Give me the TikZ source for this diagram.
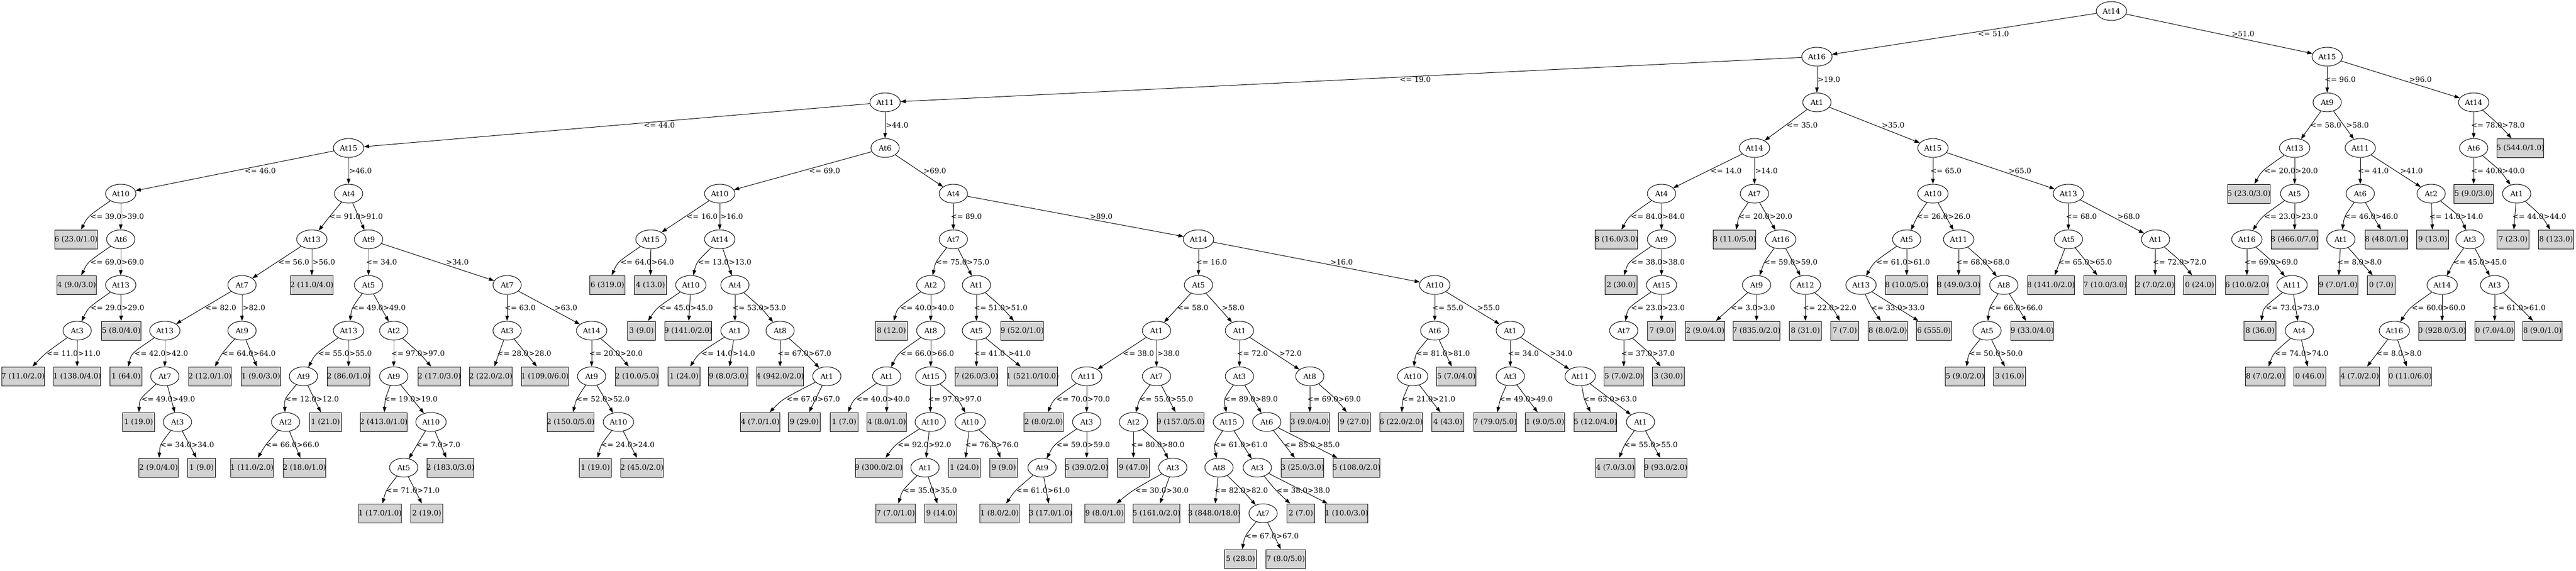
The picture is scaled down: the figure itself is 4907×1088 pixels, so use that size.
\documentclass[tikz,border=0pt]{standalone}
\usepackage{fontspec}
\setmainfont{DejaVu Serif}
\newfontfamily\tms{Liberation Serif}
\usetikzlibrary{shapes.geometric,arrows.meta,calc}
\definecolor{leafgray}{HTML}{D3D3D3}
\newsavebox\lfbox
\newdimen\lblwa
\newdimen\lblwb
% leaf text: box as wide as the Times layout, text in DejaVu Serif
\newcommand\lf[1]{\sbox\lfbox{\tms #1}\makebox[\wd\lfbox]{#1}}
% both connectors of a test node; labels kept side by side, connectors bent through them
\newcommand\branchpair[2]{%
  \path let \p1=(#1), \p2=(#10), \p3=(#11),
      \n1={0.5*(\x1+\x2)+0.055*abs(\x2-\x1)-3.75pt},
      \n2={0.5*(\x1+\x3)+0.055*abs(\x3-\x1)+0.75pt},
      \n3={max(0pt,\n1+(#2<10 ? \wa : \wb)-\n2)},
      \n4={abs(\x2-\x1)<11.25pt ? 0pt : \n3},
      \n5={\n3-\n4} in
    coordinate (#1cl) at ({0.5*(\x1+\x2)-1.333*\n4},{0.5*(\y1+\y2)})
    coordinate (#1cr) at ({0.5*(\x1+\x3)+1.333*\n5},{0.5*(\y1+\y3)})
    node[edgelabel] at ({\n1-\n4},{0.5*(\y1+\y2)}) {<= #2}
    node[edgelabel] at ({\n2+\n5},{0.5*(\y1+\y3)}) {>#2};
  \draw[branch] (#1) .. controls (#1cl) .. (#10);
  \draw[branch] (#1) .. controls (#1cr) .. (#11);}

\begin{document}
\settowidth{\lblwa}{\fontsize{10.5}{12.6}\selectfont <= 0.0}%
\settowidth{\lblwb}{\fontsize{10.5}{12.6}\selectfont <= 00.0}%
\edef\wa{\the\lblwa}%
\edef\wb{\the\lblwb}%
\begin{tikzpicture}[x=0.75pt,y=-0.75pt,
  font=\fontsize{10.5}{12.6}\selectfont,
  attrnode/.style={ellipse, draw, line width=0.75pt, minimum width=40.5pt, minimum height=27pt, inner sep=0pt},
  attrwide/.style={attrnode, minimum width=43.5pt},
  leafnode/.style={rectangle, draw, line width=0.75pt, fill=leafgray, inner xsep=6pt, inner ysep=0pt, minimum height=27pt},
  branch/.style={line width=0.75pt, -{Triangle[length=7.5pt,width=5.25pt]}},
  edgelabel/.style={anchor=west, inner sep=0pt}]
\path[fill=white, use as bounding box] (0,0) rectangle (4907,1088);

% Level 0
\node[attrwide] (r) at (4022,21) {At14};
% Level 1
\node[attrwide] (r0) at (3461,108) {At16};
\node[attrwide] (r1) at (4433,108) {At15};
% Level 2
\node[attrwide] (r00) at (1686,195) {At11};
\node[attrnode] (r01) at (3461,195) {At1};
\node[attrnode] (r10) at (4433,195) {At9};
\node[attrwide] (r11) at (4712,195) {At14};
% Level 3
\node[attrwide] (r000) at (664,282) {At15};
\node[attrnode] (r001) at (1686,282) {At6};
\node[attrwide] (r010) at (3342,282) {At14};
\node[attrwide] (r011) at (3682,282) {At15};
\node[attrwide] (r100) at (4371,282) {At13};
\node[attrwide] (r101) at (4496,282) {At11};
\node[attrnode] (r110) at (4712,282) {At6};
\node[leafnode] (r111) at (4801,282) {\lf{5 (544.0/1.0)}};
% Level 4
\node[attrwide] (r0000) at (230,369) {At10};
\node[attrnode] (r0001) at (664,369) {At4};
\node[attrwide] (r0010) at (1371,369) {At10};
\node[attrnode] (r0011) at (1816,369) {At4};
\node[attrnode] (r0100) at (3165,369) {At4};
\node[attrnode] (r0101) at (3342,369) {At7};
\node[attrwide] (r0110) at (3682,369) {At10};
\node[attrwide] (r0111) at (3940,369) {At13};
\node[leafnode] (r1000) at (4284,369) {\lf{5 (23.0/3.0)}};
\node[attrnode] (r1001) at (4371,369) {At5};
\node[attrnode] (r1010) at (4496,369) {At6};
\node[attrnode] (r1011) at (4631,369) {At2};
\node[leafnode] (r1100) at (4712,369) {\lf{5 (9.0/3.0)}};
\node[attrnode] (r1101) at (4794,369) {At1};
% Level 5
\node[leafnode] (r00000) at (145,456) {\lf{6 (23.0/1.0)}};
\node[attrnode] (r00001) at (230,456) {At6};
\node[attrwide] (r00010) at (594,456) {At13};
\node[attrnode] (r00011) at (702,456) {At9};
\node[attrwide] (r00100) at (1240,456) {At15};
\node[attrwide] (r00101) at (1371,456) {At14};
\node[attrnode] (r00110) at (1816,456) {At7};
\node[attrwide] (r00111) at (2283,456) {At14};
\node[leafnode] (r01000) at (3079,456) {\lf{8 (16.0/3.0)}};
\node[attrnode] (r01001) at (3165,456) {At9};
\node[leafnode] (r01010) at (3304,456) {\lf{8 (11.0/5.0)}};
\node[attrwide] (r01011) at (3392,456) {At16};
\node[attrnode] (r01100) at (3632,456) {At5};
\node[attrwide] (r01101) at (3731,456) {At11};
\node[attrnode] (r01110) at (3940,456) {At5};
\node[attrnode] (r01111) at (4106,456) {At1};
\node[attrwide] (r10010) at (4280,456) {At16};
\node[leafnode] (r10011) at (4371,456) {\lf{8 (466.0/7.0)}};
\node[attrnode] (r10100) at (4459,456) {At1};
\node[leafnode] (r10101) at (4546,456) {\lf{8 (48.0/1.0)}};
\node[leafnode] (r10110) at (4634,456) {\lf{9 (13.0)}};
\node[attrnode] (r10111) at (4705,456) {At3};
\node[leafnode] (r11010) at (4787,456) {\lf{7 (23.0)}};
\node[leafnode] (r11011) at (4869,456) {\lf{8 (123.0)}};
% Level 6
\node[leafnode] (r000010) at (146,543) {\lf{4 (9.0/3.0)}};
\node[attrwide] (r000011) at (230,543) {At13};
\node[attrnode] (r000100) at (461,543) {At7};
\node[leafnode] (r000101) at (594,543) {\lf{2 (11.0/4.0)}};
\node[attrnode] (r000110) at (702,543) {At5};
\node[attrnode] (r000111) at (966,543) {At7};
\node[leafnode] (r001000) at (1157,543) {\lf{6 (319.0)}};
\node[leafnode] (r001001) at (1239,543) {\lf{4 (13.0)}};
\node[attrwide] (r001010) at (1316,543) {At10};
\node[attrnode] (r001011) at (1400,543) {At4};
\node[attrnode] (r001100) at (1773,543) {At2};
\node[attrnode] (r001101) at (1860,543) {At1};
\node[attrnode] (r001110) at (2283,543) {At5};
\node[attrwide] (r001111) at (2733,543) {At10};
\node[leafnode] (r010010) at (3088,543) {\lf{2 (30.0)}};
\node[attrwide] (r010011) at (3165,543) {At15};
\node[attrnode] (r010110) at (3346,543) {At9};
\node[attrwide] (r010111) at (3439,543) {At12};
\node[attrwide] (r011000) at (3545,543) {At13};
\node[leafnode] (r011001) at (3632,543) {\lf{8 (10.0/5.0)}};
\node[leafnode] (r011010) at (3731,543) {\lf{8 (49.0/3.0)}};
\node[attrnode] (r011011) at (3817,543) {At8};
\node[leafnode] (r011100) at (3907,543) {\lf{8 (141.0/2.0)}};
\node[leafnode] (r011101) at (4010,543) {\lf{7 (10.0/3.0)}};
\node[leafnode] (r011110) at (4105,543) {\lf{2 (7.0/2.0)}};
\node[leafnode] (r011111) at (4190,543) {\lf{0 (24.0)}};
\node[leafnode] (r100100) at (4280,543) {\lf{6 (10.0/2.0)}};
\node[attrwide] (r100101) at (4366,543) {At11};
\node[leafnode] (r101000) at (4454,543) {\lf{9 (7.0/1.0)}};
\node[leafnode] (r101001) at (4536,543) {\lf{0 (7.0)}};
\node[attrwide] (r101110) at (4652,543) {At14};
\node[attrnode] (r101111) at (4752,543) {At3};
% Level 7
\node[attrnode] (r0000110) at (147,630) {At3};
\node[leafnode] (r0000111) at (231,630) {\lf{5 (8.0/4.0)}};
\node[attrwide] (r0001000) at (314,630) {At13};
\node[attrnode] (r0001001) at (461,630) {At9};
\node[attrwide] (r0001100) at (664,630) {At13};
\node[attrnode] (r0001101) at (750,630) {At2};
\node[attrnode] (r0001110) at (966,630) {At3};
\node[attrwide] (r0001111) at (1127,630) {At14};
\node[leafnode] (r0010100) at (1222,630) {\lf{3 (9.0)}};
\node[leafnode] (r0010101) at (1311,630) {\lf{9 (141.0/2.0)}};
\node[attrnode] (r0010110) at (1400,630) {At1};
\node[attrnode] (r0010111) at (1486,630) {At8};
\node[leafnode] (r0011000) at (1698,630) {\lf{8 (12.0)}};
\node[attrnode] (r0011001) at (1773,630) {At8};
\node[attrnode] (r0011010) at (1860,630) {At5};
\node[leafnode] (r0011011) at (1947,630) {\lf{9 (52.0/1.0)}};
\node[attrnode] (r0011100) at (2203,630) {At1};
\node[attrnode] (r0011101) at (2361,630) {At1};
\node[attrnode] (r0011110) at (2733,630) {At6};
\node[attrnode] (r0011111) at (2877,630) {At1};
\node[attrnode] (r0100110) at (3093,630) {At7};
\node[leafnode] (r0100111) at (3165,630) {\lf{7 (9.0)}};
\node[leafnode] (r0101100) at (3248,630) {\lf{2 (9.0/4.0)}};
\node[leafnode] (r0101101) at (3346,630) {\lf{7 (835.0/2.0)}};
\node[leafnode] (r0101110) at (3439,630) {\lf{8 (31.0)}};
\node[leafnode] (r0101111) at (3514,630) {\lf{7 (7.0)}};
\node[leafnode] (r0110000) at (3596,630) {\lf{8 (8.0/2.0)}};
\node[leafnode] (r0110001) at (3684,630) {\lf{6 (555.0)}};
\node[attrnode] (r0110110) at (3785,630) {At5};
\node[leafnode] (r0110111) at (3871,630) {\lf{9 (33.0/4.0)}};
\node[leafnode] (r1001010) at (4305,630) {\lf{8 (36.0)}};
\node[attrnode] (r1001011) at (4380,630) {At4};
\node[attrwide] (r1011100) at (4561,630) {At16};
\node[leafnode] (r1011101) at (4652,630) {\lf{0 (928.0/3.0)}};
\node[leafnode] (r1011110) at (4752,630) {\lf{0 (7.0/4.0)}};
\node[leafnode] (r1011111) at (4843,630) {\lf{8 (9.0/1.0)}};
% Level 8
\node[leafnode] (r00001100) at (44,717) {\lf{7 (11.0/2.0)}};
\node[leafnode] (r00001101) at (147,717) {\lf{1 (138.0/4.0)}};
\node[leafnode] (r00010000) at (240,717) {\lf{1 (64.0)}};
\node[attrnode] (r00010001) at (314,717) {At7};
\node[leafnode] (r00010010) at (400,717) {\lf{2 (12.0/1.0)}};
\node[leafnode] (r00010011) at (497,717) {\lf{1 (9.0/3.0)}};
\node[attrnode] (r00011000) at (578,717) {At9};
\node[leafnode] (r00011001) at (664,717) {\lf{2 (86.0/1.0)}};
\node[attrnode] (r00011010) at (750,717) {At9};
\node[leafnode] (r00011011) at (837,717) {\lf{2 (17.0/3.0)}};
\node[leafnode] (r00011100) at (935,717) {\lf{2 (22.0/2.0)}};
\node[leafnode] (r00011101) at (1038,717) {\lf{1 (109.0/6.0)}};
\node[attrnode] (r00011110) at (1127,717) {At9};
\node[leafnode] (r00011111) at (1213,717) {\lf{2 (10.0/5.0)}};
\node[leafnode] (r00101100) at (1303,717) {\lf{1 (24.0)}};
\node[leafnode] (r00101101) at (1387,717) {\lf{9 (8.0/3.0)}};
\node[leafnode] (r00101110) at (1486,717) {\lf{4 (942.0/2.0)}};
\node[attrnode] (r00101111) at (1575,717) {At1};
\node[attrnode] (r00110010) at (1689,717) {At1};
\node[attrwide] (r00110011) at (1773,717) {At15};
\node[leafnode] (r00110100) at (1860,717) {\lf{7 (26.0/3.0)}};
\node[leafnode] (r00110101) at (1967,717) {\lf{1 (521.0/10.0)}};
\node[attrwide] (r00111000) at (2070,717) {At11};
\node[attrnode] (r00111001) at (2203,717) {At7};
\node[attrnode] (r00111010) at (2361,717) {At3};
\node[attrnode] (r00111011) at (2495,717) {At8};
\node[attrwide] (r00111100) at (2691,717) {At10};
\node[leafnode] (r00111101) at (2774,717) {\lf{5 (7.0/4.0)}};
\node[attrnode] (r00111110) at (2877,717) {At3};
\node[attrwide] (r00111111) at (3010,717) {At11};
\node[leafnode] (r01001100) at (3093,717) {\lf{5 (7.0/2.0)}};
\node[leafnode] (r01001101) at (3178,717) {\lf{3 (30.0)}};
\node[leafnode] (r01101100) at (3743,717) {\lf{5 (9.0/2.0)}};
\node[leafnode] (r01101101) at (3828,717) {\lf{3 (16.0)}};
\node[leafnode] (r10010110) at (4315,717) {\lf{8 (7.0/2.0)}};
\node[leafnode] (r10010111) at (4400,717) {\lf{0 (46.0)}};
\node[leafnode] (r10111000) at (4495,717) {\lf{4 (7.0/2.0)}};
\node[leafnode] (r10111001) at (4591,717) {\lf{0 (11.0/6.0)}};
% Level 9
\node[leafnode] (r000100010) at (264,804) {\lf{1 (19.0)}};
\node[attrnode] (r000100011) at (338,804) {At3};
\node[attrnode] (r000110000) at (544,804) {At2};
\node[leafnode] (r000110001) at (620,804) {\lf{1 (21.0)}};
\node[leafnode] (r000110100) at (731,804) {\lf{2 (413.0/1.0)}};
\node[attrwide] (r000110101) at (821,804) {At10};
\node[leafnode] (r000111100) at (1087,804) {\lf{2 (150.0/5.0)}};
\node[attrwide] (r000111101) at (1178,804) {At10};
\node[leafnode] (r001011110) at (1448,804) {\lf{4 (7.0/1.0)}};
\node[leafnode] (r001011111) at (1532,804) {\lf{9 (29.0)}};
\node[leafnode] (r001100100) at (1608,804) {\lf{1 (7.0)}};
\node[leafnode] (r001100101) at (1689,804) {\lf{4 (8.0/1.0)}};
\node[attrwide] (r001100110) at (1772,804) {At10};
\node[attrwide] (r001100111) at (1848,804) {At10};
\node[leafnode] (r001110000) at (1988,804) {\lf{2 (8.0/2.0)}};
\node[attrnode] (r001110001) at (2070,804) {At3};
\node[attrnode] (r001110010) at (2159,804) {At2};
\node[leafnode] (r001110011) at (2249,804) {\lf{9 (157.0/5.0)}};
\node[attrwide] (r001110100) at (2340,804) {At15};
\node[attrnode] (r001110101) at (2413,804) {At6};
\node[leafnode] (r001110110) at (2495,804) {\lf{3 (9.0/4.0)}};
\node[leafnode] (r001110111) at (2580,804) {\lf{9 (27.0)}};
\node[leafnode] (r001111000) at (2669,804) {\lf{6 (22.0/2.0)}};
\node[leafnode] (r001111001) at (2758,804) {\lf{4 (43.0)}};
\node[leafnode] (r001111100) at (2848,804) {\lf{7 (79.0/5.0)}};
\node[leafnode] (r001111101) at (2943,804) {\lf{1 (9.0/5.0)}};
\node[leafnode] (r001111110) at (3039,804) {\lf{5 (12.0/4.0)}};
\node[attrnode] (r001111111) at (3125,804) {At1};
% Level 10
\node[leafnode] (r0001000110) at (302,891) {\lf{2 (9.0/4.0)}};
\node[leafnode] (r0001000111) at (384,891) {\lf{1 (9.0)}};
\node[leafnode] (r0001100000) at (480,891) {\lf{1 (11.0/2.0)}};
\node[leafnode] (r0001100001) at (580,891) {\lf{2 (18.0/1.0)}};
\node[attrnode] (r0001101010) at (769,891) {At5};
\node[leafnode] (r0001101011) at (858,891) {\lf{2 (183.0/3.0)}};
\node[leafnode] (r0001111010) at (1134,891) {\lf{1 (19.0)}};
\node[leafnode] (r0001111011) at (1223,891) {\lf{2 (45.0/2.0)}};
\node[leafnode] (r0011001100) at (1674,891) {\lf{9 (300.0/2.0)}};
\node[attrnode] (r0011001101) at (1762,891) {At1};
\node[leafnode] (r0011001110) at (1837,891) {\lf{1 (24.0)}};
\node[leafnode] (r0011001111) at (1912,891) {\lf{9 (9.0)}};
\node[attrnode] (r0011100010) at (1985,891) {At9};
\node[leafnode] (r0011100011) at (2070,891) {\lf{5 (39.0/2.0)}};
\node[leafnode] (r0011100100) at (2159,891) {\lf{9 (47.0)}};
\node[attrnode] (r0011100101) at (2234,891) {At3};
\node[attrnode] (r0011101000) at (2322,891) {At8};
\node[attrnode] (r0011101001) at (2395,891) {At3};
\node[leafnode] (r0011101010) at (2481,891) {\lf{3 (25.0/3.0)}};
\node[leafnode] (r0011101011) at (2584,891) {\lf{5 (108.0/2.0)}};
\node[leafnode] (r0011111110) at (3077,891) {\lf{4 (7.0/3.0)}};
\node[leafnode] (r0011111111) at (3173,891) {\lf{9 (93.0/2.0)}};
% Level 11
\node[leafnode] (r00011010100) at (724,978) {\lf{1 (17.0/1.0)}};
\node[leafnode] (r00011010101) at (813,978) {\lf{2 (19.0)}};
\node[leafnode] (r00110011010) at (1706,978) {\lf{7 (7.0/1.0)}};
\node[leafnode] (r00110011011) at (1792,978) {\lf{9 (14.0)}};
\node[leafnode] (r00111000100) at (1904,978) {\lf{1 (8.0/2.0)}};
\node[leafnode] (r00111000101) at (2001,978) {\lf{3 (17.0/1.0)}};
\node[leafnode] (r00111001010) at (2104,978) {\lf{9 (8.0/1.0)}};
\node[leafnode] (r00111001011) at (2203,978) {\lf{5 (161.0/2.0)}};
\node[leafnode] (r00111010000) at (2313,978) {\lf{3 (848.0/18.0)}};
\node[attrnode] (r00111010001) at (2406,978) {At7};
\node[leafnode] (r00111010010) at (2478,978) {\lf{2 (7.0)}};
\node[leafnode] (r00111010011) at (2565,978) {\lf{1 (10.0/3.0)}};
% Level 12
\node[leafnode] (r001110100010) at (2363,1065) {\lf{5 (28.0)}};
\node[leafnode] (r001110100011) at (2449,1065) {\lf{7 (8.0/5.0)}};

% Connectors: left child "<=", right child ">"
\foreach \nd/\thr in {r/51.0, r0/19.0, r1/96.0, r00/44.0, r01/35.0, r10/58.0, r11/78.0,
  r000/46.0, r001/69.0, r010/14.0, r011/65.0, r100/20.0, r101/41.0, r110/40.0,
  r0000/39.0, r0001/91.0, r0010/16.0, r0011/89.0, r0100/84.0, r0101/20.0, r0110/26.0,
  r0111/68.0, r1001/23.0, r1010/46.0, r1011/14.0, r1101/44.0,
  r00001/69.0, r00010/56.0, r00011/34.0, r00100/64.0, r00101/13.0, r00110/75.0,
  r00111/16.0, r01001/38.0, r01011/59.0, r01100/61.0, r01101/68.0, r01110/65.0,
  r01111/72.0, r10010/69.0, r10100/8.0, r10111/45.0,
  r000011/29.0, r000100/82.0, r000110/49.0, r000111/63.0, r001010/45.0, r001011/53.0,
  r001100/40.0, r001101/51.0, r001110/58.0, r001111/55.0, r010011/23.0, r010110/3.0,
  r010111/22.0, r011000/33.0, r011011/66.0, r100101/73.0, r101110/60.0, r101111/61.0,
  r0000110/11.0, r0001000/42.0, r0001001/64.0, r0001100/55.0, r0001101/97.0,
  r0001110/28.0, r0001111/20.0, r0010110/14.0, r0010111/67.0, r0011001/66.0,
  r0011010/41.0, r0011100/38.0, r0011101/72.0, r0011110/81.0, r0011111/34.0,
  r0100110/37.0, r0110110/50.0, r1001011/74.0, r1011100/8.0,
  r00010001/49.0, r00011000/12.0, r00011010/19.0, r00011110/52.0, r00101111/67.0,
  r00110010/40.0, r00110011/97.0, r00111000/70.0, r00111001/55.0, r00111010/89.0,
  r00111011/69.0, r00111100/21.0, r00111110/49.0, r00111111/63.0,
  r000100011/34.0, r000110000/66.0, r000110101/7.0, r000111101/24.0, r001100110/92.0,
  r001100111/76.0, r001110001/59.0, r001110010/80.0, r001110100/61.0, r001110101/85.0,
  r001111111/55.0,
  r0001101010/71.0, r0011001101/35.0, r0011100010/61.0, r0011100101/30.0,
  r0011101000/82.0, r0011101001/38.0,
  r00111010001/67.0}
{
  \branchpair{\nd}{\thr}
}

\end{tikzpicture}
\end{document}
